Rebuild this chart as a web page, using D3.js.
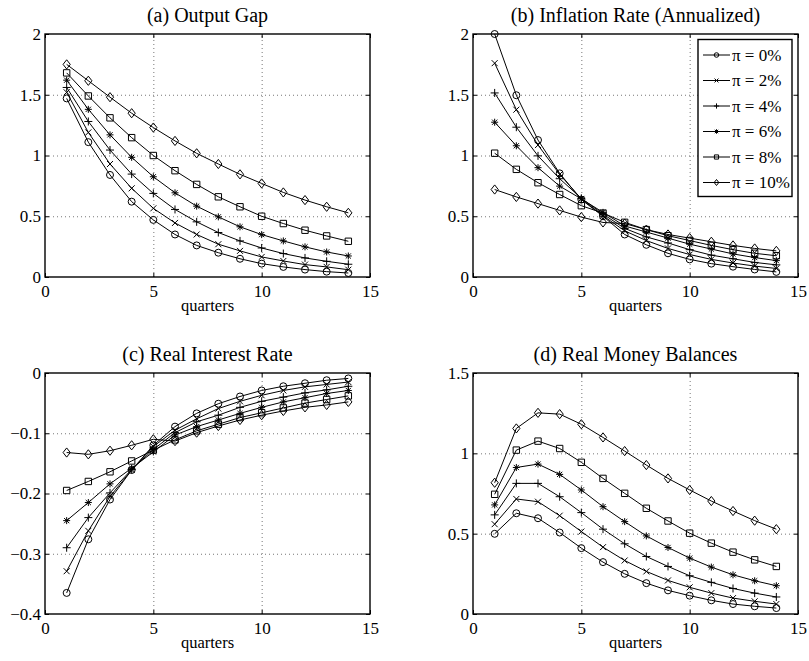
<!DOCTYPE html>
<html>
<head>
<meta charset="utf-8">
<script src="https://cdn.jsdelivr.net/npm/d3@7"></script>
<style>
  body { margin: 0; background: #fff; }
  svg { display: block; font-family: "Liberation Serif", "Times New Roman", serif; }
</style>
</head>
<body>
<svg id="chart" width="809" height="661"></svg>
<script>
// ── data: one row per inflation target, x = quarters 1..14 ──
const quarters = d3.range(1, 15);
const seriesLabels = ["π = 0%", "π = 2%", "π = 4%", "π = 6%", "π = 8%", "π = 10%"];
const seriesMarkers = ["circle", "x", "plus", "star", "square", "diamond"];

const outputGap = [
  [1.47, 1.11, 0.84, 0.62, 0.47, 0.35, 0.26, 0.20, 0.15, 0.11, 0.083, 0.061, 0.044, 0.033],
  [1.52, 1.19, 0.93, 0.73, 0.565, 0.445, 0.35, 0.27, 0.215, 0.165, 0.132, 0.102, 0.083, 0.06],
  [1.56, 1.28, 1.045, 0.847, 0.688, 0.556, 0.454, 0.366, 0.297, 0.239, 0.193, 0.157, 0.129, 0.105],
  [1.62, 1.38, 1.17, 0.985, 0.825, 0.693, 0.583, 0.495, 0.413, 0.349, 0.297, 0.248, 0.206, 0.173],
  [1.68, 1.49, 1.31, 1.147, 1.0, 0.875, 0.762, 0.66, 0.578, 0.50, 0.44, 0.385, 0.338, 0.294],
  [1.75, 1.615, 1.48, 1.348, 1.23, 1.12, 1.018, 0.93, 0.845, 0.77, 0.696, 0.633, 0.578, 0.528]
];

const inflation = [
  [2.0, 1.496, 1.127, 0.853, 0.637, 0.50, 0.35, 0.265, 0.195, 0.145, 0.11, 0.085, 0.062, 0.042],
  [1.76, 1.377, 1.086, 0.845, 0.643, 0.504, 0.38, 0.30, 0.235, 0.185, 0.145, 0.115, 0.09, 0.07],
  [1.515, 1.233, 0.997, 0.809, 0.648, 0.518, 0.40, 0.33, 0.28, 0.225, 0.18, 0.15, 0.12, 0.10],
  [1.274, 1.08, 0.90, 0.748, 0.643, 0.532, 0.42, 0.37, 0.32, 0.27, 0.23, 0.19, 0.16, 0.135],
  [1.019, 0.886, 0.776, 0.679, 0.587, 0.526, 0.45, 0.39, 0.34, 0.30, 0.26, 0.225, 0.195, 0.175],
  [0.72, 0.659, 0.604, 0.548, 0.493, 0.449, 0.44, 0.39, 0.35, 0.32, 0.29, 0.26, 0.235, 0.215]
];

const realRate = [
  [-0.365, -0.276, -0.21, -0.161, -0.12, -0.089, -0.067, -0.051, -0.039, -0.029, -0.022, -0.017, -0.012, -0.009],
  [-0.329, -0.262, -0.205, -0.161, -0.122, -0.095, -0.076, -0.059, -0.047, -0.037, -0.029, -0.023, -0.019, -0.015],
  [-0.29, -0.24, -0.199, -0.16, -0.127, -0.099, -0.081, -0.07, -0.057, -0.047, -0.04, -0.033, -0.028, -0.022],
  [-0.245, -0.215, -0.184, -0.158, -0.131, -0.103, -0.089, -0.078, -0.067, -0.057, -0.048, -0.041, -0.034, -0.029],
  [-0.195, -0.18, -0.164, -0.146, -0.128, -0.111, -0.096, -0.085, -0.074, -0.066, -0.058, -0.05, -0.044, -0.038],
  [-0.132, -0.135, -0.129, -0.12, -0.11, -0.113, -0.099, -0.088, -0.078, -0.07, -0.063, -0.057, -0.053, -0.048]
];

const moneyBalances = [
  [0.499, 0.627, 0.596, 0.507, 0.41, 0.323, 0.25, 0.192, 0.147, 0.114, 0.085, 0.062, 0.048, 0.037],
  [0.559, 0.716, 0.699, 0.612, 0.513, 0.416, 0.333, 0.265, 0.209, 0.166, 0.13, 0.099, 0.079, 0.062],
  [0.617, 0.813, 0.813, 0.73, 0.631, 0.528, 0.437, 0.358, 0.296, 0.238, 0.197, 0.159, 0.13, 0.106],
  [0.679, 0.912, 0.933, 0.869, 0.772, 0.668, 0.575, 0.486, 0.414, 0.348, 0.292, 0.244, 0.207, 0.176],
  [0.745, 1.02, 1.076, 1.03, 0.944, 0.844, 0.751, 0.658, 0.579, 0.503, 0.441, 0.385, 0.337, 0.296],
  [0.817, 1.155, 1.252, 1.244, 1.181, 1.099, 1.014, 0.927, 0.844, 0.772, 0.703, 0.641, 0.581, 0.528]
];

const xTicks = [0, 5, 10, 15];

// ── layout ──
const panels = [
  { title: "(a) Output Gap", data: outputGap, yDomain: [0, 2], yTicks: [0, 0.5, 1, 1.5, 2],
    box: { l: 45, r: 370, t: 34, b: 277 }, legend: false },
  { title: "(b) Inflation Rate (Annualized)", data: inflation, yDomain: [0, 2], yTicks: [0, 0.5, 1, 1.5, 2],
    box: { l: 473, r: 798, t: 34, b: 277 }, legend: true },
  { title: "(c) Real Interest Rate", data: realRate, yDomain: [-0.4, 0], yTicks: [-0.4, -0.3, -0.2, -0.1, 0],
    box: { l: 45, r: 370, t: 373, b: 614 }, legend: false },
  { title: "(d) Real Money Balances", data: moneyBalances, yDomain: [0, 1.5], yTicks: [0, 0.5, 1, 1.5],
    box: { l: 473, r: 798, t: 373, b: 614 }, legend: false }
];

const svg = d3.select("#chart");

// marker shapes centred on (0,0); k scales them down for the legend
function markerPath(type, k) {
  const s = (v) => v * k;
  switch (type) {
    case "circle":
      return `M${s(-3.5)},0a${s(3.5)},${s(3.5)} 0 1,0 ${s(7)},0a${s(3.5)},${s(3.5)} 0 1,0 ${s(-7)},0`;
    case "x":
      return `M${s(-3)},${s(-3)}L${s(3)},${s(3)}M${s(-3)},${s(3)}L${s(3)},${s(-3)}`;
    case "plus":
      return `M${s(-4)},0L${s(4)},0M0,${s(-4)}L0,${s(4)}`;
    case "star":
      return `M${s(-3.5)},0L${s(3.5)},0M0,${s(-3.5)}L0,${s(3.5)}` +
             `M${s(-2.6)},${s(-2.6)}L${s(2.6)},${s(2.6)}M${s(-2.6)},${s(2.6)}L${s(2.6)},${s(-2.6)}`;
    case "square":
      return `M${s(-3.2)},${s(-3.2)}h${s(6.4)}v${s(6.4)}h${s(-6.4)}z`;
    case "diamond":
      return `M0,${s(-4.6)}L${s(3.6)},0L0,${s(4.6)}L${s(-3.6)},0Z`;
  }
}

const fmt = (d) => String(d).replace("-", "\u2212");

panels.forEach((p) => {
  const { l, r, t, b } = p.box;
  const x = d3.scaleLinear().domain([0, 15]).range([l, r]);
  const y = d3.scaleLinear().domain(p.yDomain).range([b, t]);
  const g = svg.append("g");

  // dotted grid
  g.append("g")
    .attr("transform", `translate(0,${b})`)
    .call(d3.axisBottom(x).tickValues(xTicks.slice(1, -1)).tickSize(-(b - t)).tickFormat(""))
    .call((a) => a.select(".domain").remove())
    .call((a) => a.selectAll("line").attr("stroke", "#777").attr("stroke-dasharray", "1,3"));
  g.append("g")
    .attr("transform", `translate(${l},0)`)
    .call(d3.axisLeft(y).tickValues(p.yTicks.slice(1, -1)).tickSize(-(r - l)).tickFormat(""))
    .call((a) => a.select(".domain").remove())
    .call((a) => a.selectAll("line").attr("stroke", "#777").attr("stroke-dasharray", "1,3"));

  // axes with inward ticks
  const bottom = g.append("g").attr("transform", `translate(0,${b})`)
    .call(d3.axisBottom(x).tickValues(xTicks).tickSizeInner(-4).tickSizeOuter(0).tickPadding(8).tickFormat(fmt));
  const left = g.append("g").attr("transform", `translate(${l},0)`)
    .call(d3.axisLeft(y).tickValues(p.yTicks).tickSizeInner(-4).tickSizeOuter(0).tickPadding(4).tickFormat(fmt));
  g.append("g").attr("transform", `translate(0,${t})`)
    .call(d3.axisTop(x).tickValues(xTicks).tickSizeInner(-4).tickSizeOuter(0).tickFormat(""));
  g.append("g").attr("transform", `translate(${r},0)`)
    .call(d3.axisRight(y).tickValues(p.yTicks).tickSizeInner(-4).tickSizeOuter(0).tickFormat(""));
  g.selectAll(".domain").remove();
  g.selectAll(".tick text")
    .attr("font-family", "Liberation Serif, Times New Roman, serif")
    .attr("font-size", 17)
    .attr("fill", "#000");
  g.selectAll(".tick line").filter(function () { return !this.getAttribute("stroke-dasharray"); })
    .attr("stroke", "#000");

  // series
  const line = d3.line().x((d, i) => x(quarters[i])).y((d) => y(d));
  p.data.forEach((vals, si) => {
    g.append("path")
      .attr("d", line(vals))
      .attr("fill", "none")
      .attr("stroke", "#000")
      .attr("stroke-width", 1);
    g.selectAll(null).data(vals).enter().append("path")
      .attr("transform", (d, i) => `translate(${x(quarters[i])},${y(d)})`)
      .attr("d", markerPath(seriesMarkers[si], 1))
      .attr("fill", "none")
      .attr("stroke", "#000")
      .attr("stroke-width", 1);
  });

  // box
  g.append("rect")
    .attr("x", l).attr("y", t)
    .attr("width", r - l).attr("height", b - t)
    .attr("fill", "none")
    .attr("stroke", "#000")
    .attr("stroke-width", 1.4);

  // title + x label
  g.append("text")
    .attr("x", (l + r) / 2).attr("y", t - 12)
    .attr("text-anchor", "middle")
    .attr("font-size", 20)
    .text(p.title);
  g.append("text")
    .attr("x", (l + r) / 2).attr("y", b + 34)
    .attr("text-anchor", "middle")
    .attr("font-size", 16.5)
    .text("quarters");

  // legend
  if (p.legend) {
    const lg = g.append("g");
    lg.append("rect")
      .attr("x", 698).attr("y", 39.5)
      .attr("width", 94).attr("height", 157)
      .attr("fill", "#fff")
      .attr("stroke", "#000")
      .attr("stroke-width", 1.4);
    seriesLabels.forEach((lab, i) => {
      const yy = 55 + i * 25.5;
      lg.append("line")
        .attr("x1", 703).attr("x2", 730)
        .attr("y1", yy).attr("y2", yy)
        .attr("stroke", "#000");
      lg.append("path")
        .attr("transform", `translate(716.5,${yy})`)
        .attr("d", markerPath(seriesMarkers[i], 0.65))
        .attr("fill", "none")
        .attr("stroke", "#000");
      lg.append("text")
        .attr("x", 732).attr("y", yy)
        .attr("dy", "0.35em")
        .attr("font-size", 17)
        .text(lab);
    });
  }
});
</script>
</body>
</html>
